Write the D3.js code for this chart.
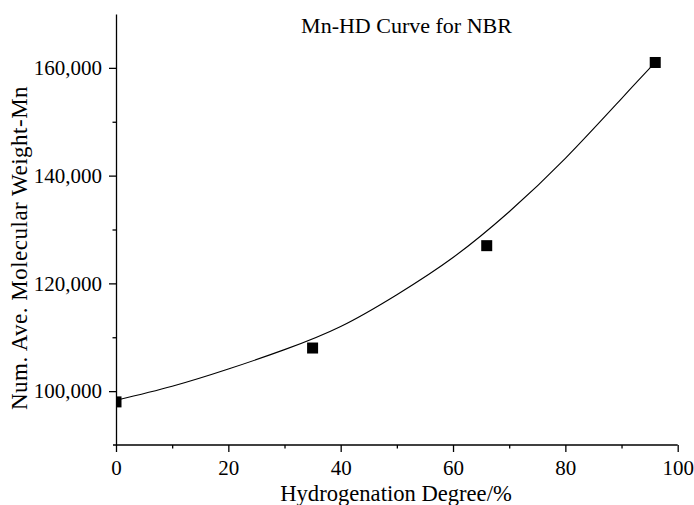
<!DOCTYPE html>
<html>
<head>
<meta charset="utf-8">
<script src="https://cdn.jsdelivr.net/npm/d3@7"></script>
<style>
    body { margin: 0; background: #fff; }
</style>
</head>
<body>
<div id="chart"></div>
<script>
// measured points: hydrogenation degree (%) vs Mn
const hdValues = [0, 35, 66, 96];
const mnValues = [98000, 108000, 127000, 161000];

// fitted curve
const fitHd = [0, 10, 20, 30, 40, 50, 60, 70, 80, 90, 96];
const fitMn = [98300, 100900, 104100, 107700, 112000, 117900, 124800, 133300, 143200, 154300, 161000];

const xTicks = [0, 20, 40, 60, 80, 100];
const yTicks = [100000, 120000, 140000, 160000];

const serif = 'Liberation Serif';

const width = 694, height = 505;
const margin = { top: 14, right: 16.3, bottom: 60, left: 116 };
const innerW = width - margin.left - margin.right;
const innerH = height - margin.top - margin.bottom;

const svg = d3.select('#chart')
    .append('svg')
    .attr('width', width)
    .attr('height', height);

const x = d3.scaleLinear().domain([0, 100]).range([0, innerW]);
const y = d3.scaleLinear().domain([90000, 170000]).range([innerH, 0]);

const g = svg.append('g')
    .attr('transform', `translate(${margin.left},${margin.top})`);

g.append('clipPath')
    .attr('id', 'plot-clip')
    .append('rect')
    .attr('width', innerW)
    .attr('height', innerH);

// minor ticks first, majors on top
const fmt = d3.format(',');
g.append('g')
    .attr('transform', `translate(0,${innerH})`)
    .call(d3.axisBottom(x).tickValues(d3.range(10, 100, 20)).tickSize(3.5).tickFormat(''))
    .call(a => a.select('.domain').remove());
g.append('g')
    .call(d3.axisLeft(y).tickValues(d3.range(110000, 170000, 20000)).tickSize(3.5).tickFormat(''))
    .call(a => a.select('.domain').remove());

const xAxis = g.append('g')
    .attr('transform', `translate(0,${innerH})`)
    .call(d3.axisBottom(x).tickValues(xTicks).tickSize(7).tickSizeOuter(0).tickPadding(8));
xAxis.select('.domain').attr('d', `M-3,0H${innerW}`);

const yAxis = g.append('g')
    .call(d3.axisLeft(y).tickValues(yTicks).tickFormat(fmt).tickSize(7).tickSizeOuter(0).tickPadding(7));

g.selectAll('.tick text')
    .style('font-family', serif)
    .style('font-size', '21px')
    .attr('fill', '#000');
g.selectAll('.domain, .tick line').attr('stroke', '#000').attr('stroke-width', 1.3);

// fitted curve
const line = d3.line()
    .x((d, i) => x(fitHd[i]))
    .y(d => y(d))
    .curve(d3.curveNatural);
g.append('path')
    .attr('d', line(fitMn))
    .attr('fill', 'none')
    .attr('stroke', '#000')
    .attr('stroke-width', 1.1);

// square markers
g.append('g')
    .attr('clip-path', 'url(#plot-clip)')
    .selectAll('rect')
    .data(mnValues)
    .enter()
    .append('rect')
    .attr('x', (d, i) => x(hdValues[i]) - 5.5)
    .attr('y', d => y(d) - 5.5)
    .attr('width', 11)
    .attr('height', 11)
    .attr('fill', '#000');

// titles
svg.append('text')
    .attr('x', 406.5)
    .attr('y', 33)
    .attr('text-anchor', 'middle')
    .style('font-family', serif)
    .style('font-size', '22px')
    .text('Mn-HD Curve for NBR');

svg.append('text')
    .attr('x', 396)
    .attr('y', 501)
    .attr('text-anchor', 'middle')
    .style('font-family', serif)
    .style('font-size', '22.6px')
    .text('Hydrogenation Degree/%');

svg.append('text')
    .attr('transform', 'translate(27,248) rotate(-90)')
    .attr('text-anchor', 'middle')
    .style('font-family', serif)
    .style('font-size', '23px')
    .style('letter-spacing', '0.5px')
    .text('Num. Ave. Molecular Weight-Mn');
</script>
</body>
</html>
